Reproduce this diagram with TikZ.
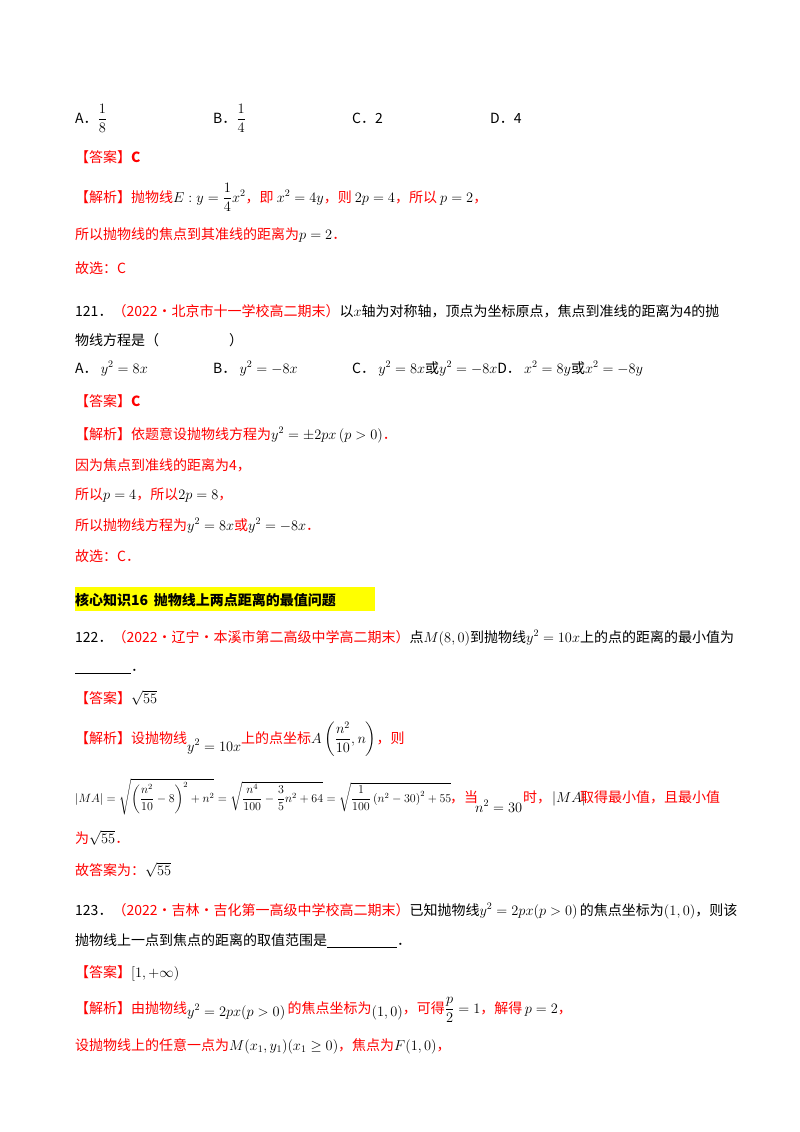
\documentclass[tikz,border=0pt]{standalone}
\usepackage{amsmath}
\usepackage{fontspec}
\newfontfamily\cjk{Noto Sans CJK SC}
\definecolor{rd}{RGB}{255,0,0}
\definecolor{hl}{RGB}{255,255,0}
\newcommand{\mm}[1]{{\color{black}$#1$}}
\newcommand{\ans}{{\color{rd}【答案】}}
\begin{document}
\begin{tikzpicture}[x=1pt,y=-1pt,
  ln/.style={anchor=base west,inner sep=0pt,font=\cjk\fontsize{14}{17}\selectfont},
  rl/.style={ln,text=rd}]
\useasboundingbox[fill=white] (0,0) rectangle (800,1132);
\fill[hl] (75,587) rectangle (375,611);
\node[ln] (a1) at (75,123) {A．$\dfrac{1}{8}$};
\node[ln] (b1) at (213,123) {B．$\dfrac{1}{4}$};
\node[ln] (c1) at (352,123) {C．2};
\node[ln] (d1) at (490,123) {D．4};
\node[ln] (l1) at (75,162) {\ans{\color{rd}\bfseries C}};
\node[rl] (l2) at (75,202) {【解析】抛物线\mm{E:y=\dfrac14x^2}，即 \mm{x^2=4y}，则 \mm{2p=4}，所以 \mm{p=2}，};
\node[rl] (l3) at (75,239) {所以抛物线的焦点到其准线的距离为\mm{p=2}．};
\node[rl] (l4) at (75,273) {故选：C};
\node[ln] (q121) at (75,316) {121．{\color{rd}（2022·北京市十一学校高二期末）}以\mm{x}轴为对称轴，顶点为坐标原点，焦点到准线的距离为4的抛};
\node[ln] (q121b) at (75,345) {物线方程是（\hspace{5em}）};
\node[ln] (a2) at (75,373) {A． \mm{y^2=8x}};
\node[ln] (b2) at (213,373) {B． \mm{y^2=-8x}};
\node[ln] (c2) at (352,373) {C． \mm{y^2=8x}或\mm{y^2=-8x}D． \mm{x^2=8y}或\mm{x^2=-8y}};
\node[ln] (l5) at (75,406) {\ans{\color{rd}\bfseries C}};
\node[rl] (l6) at (75,439) {【解析】依题意设抛物线方程为\mm{y^2=\pm2px\left(p>0\right)}．};
\node[rl] (l7) at (75,470) {因为焦点到准线的距离为4，};
\node[rl] (l8) at (75,499) {所以\mm{p=4}，所以\mm{2p=8}，};
\node[rl] (l9) at (75,530) {所以抛物线方程为\mm{y^2=8x}或\mm{y^2=-8x}．};
\node[rl] (l10) at (75,561) {故选：C．};
\node[ln,font=\cjk\bfseries\fontsize{14}{17}\selectfont] (h) at (75,605) {核心知识16\, 抛物线上两点距离的最值问题};
\node[ln] (q122) at (75,642) {122．{\color{rd}（2022·辽宁·本溪市第二高级中学高二期末）}点\mm{M(8,0)}到抛物线\mm{y^2=10x}上的点的距离的最小值为};
\node[ln] (q122b) at (75,671) {\underline{\hspace{4em}}．};
\node[ln] (l11) at (75,703) {\ans\mm{\sqrt{55}}};
\node[rl] (l12) at (75,743) {【解析】设抛物线\raisebox{-8pt}{\mm{y^2=10x}}上的点坐标\mm{A\left(\dfrac{n^2}{10},n\right)}，则};
\node[ln,font=\fontsize{11.5}{14}\selectfont] (l13) at (75,802) {$\left|MA\right|=\sqrt{\left(\dfrac{n^2}{10}-8\right)^2+n^2}=\sqrt{\dfrac{n^4}{100}-\dfrac35n^2+64}=\sqrt{\dfrac{1}{100}\left(n^2-30\right)^2+55}$};
\node[rl] (l13b) at (450,802) {，当};
\node[ln] (l13c) at (475,812) {$n^2=30$};
\node[rl] (l13d) at (523,802) {时，};
\node[ln] (l13e) at (552,802) {$\left|MA\right|$};
\node[rl] (l13f) at (580,802) {取得最小值，且最小值};
\node[rl] (l14) at (75,843) {为\mm{\sqrt{55}}．};
\node[rl] (l15) at (75,875) {故答案为：\mm{\sqrt{55}}};
\node[ln] (q123) at (75,915) {123．{\color{rd}（2022·吉林·吉化第一高级中学校高二期末）}已知抛物线\mm{y^2=2px(p>0)}\,的焦点坐标为\mm{(1,0)}，则该};
\node[ln] (q123b) at (75,945) {抛物线上一点到焦点的距离的取值范围是\underline{\hspace{5em}}．};
\node[ln] (l16) at (75,977) {\ans\mm{[1,+\infty)}};
\node[rl] (l17) at (75,1013) {【解析】由抛物线\raisebox{-3pt}{\mm{y^2=2px(p>0)}}\,的焦点坐标为\raisebox{-3pt}{\mm{(1,0)}}，可得\mm{\dfrac p2=1}，解得\,\mm{p=2}，};
\node[rl] (l18) at (75,1050) {设抛物线上的任意一点为\mm{M(x_1,y_1)(x_1\ge0)}，焦点为\mm{F(1,0)}，};
\end{tikzpicture}
\end{document}
